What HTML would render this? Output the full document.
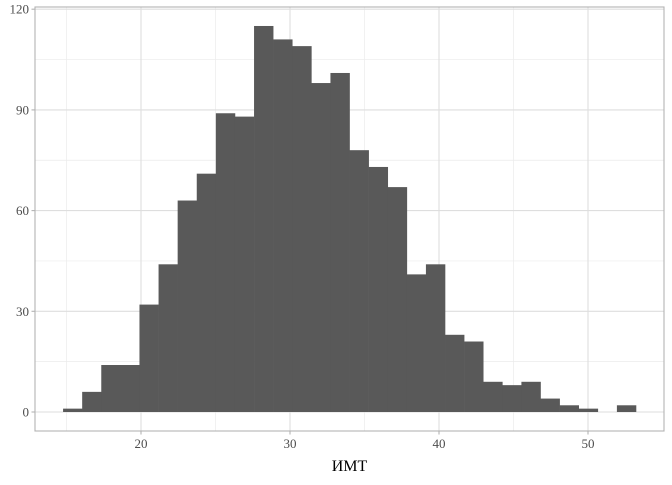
<!DOCTYPE html>
<html><head><meta charset="utf-8"><style>
body{margin:0;background:#fff;width:672px;height:480px;overflow:hidden}
text{font-family:"Liberation Serif",serif}
</style></head><body>
<svg id="c" width="672" height="480" xmlns="http://www.w3.org/2000/svg"></svg>
<script>
const counts=[1,6,14,14,32,44,63,71,89,88,115,111,109,98,101,78,73,67,41,44,23,21,9,8,9,4,2,1,0,2];
const binStart=14.77;
const binWidth=1.2817;
const xTicks=[20,30,40,50];
const xMinor=[15,25,35,45];
const yTicks=[0,30,60,90,120];
const yMinor=[15,45,75,105];
const svg=document.getElementById('c');
const NS='http://www.w3.org/2000/svg';
const L=35,R=664,T=7,B=431;
const X=v=>141+(v-20)*14.9;
const Y=v=>412-v*(100.7/30);
function mk(tag,attrs,parent){const e=document.createElementNS(NS,tag);for(const k in attrs)e.setAttribute(k,attrs[k]);(parent||svg).appendChild(e);return e;}
const grid=mk('g',{});


xMinor.forEach(v=>{const l=mk('line',{x1:X(v),x2:X(v),y1:T,y2:B,stroke:'#ebebeb','stroke-width':0.7},grid);});
yMinor.forEach(v=>{const l=mk('line',{x1:L,x2:R,y1:Y(v),y2:Y(v),stroke:'#ebebeb','stroke-width':0.7},grid);});
xTicks.forEach(v=>{const l=mk('line',{x1:X(v),x2:X(v),y1:T,y2:B,stroke:'#dedede','stroke-width':1.1},grid);});
yTicks.forEach(v=>{const l=mk('line',{x1:L,x2:R,y1:Y(v),y2:Y(v),stroke:'#dedede','stroke-width':1.1},grid);});
const bars=mk('g',{});


counts.forEach((c,i)=>{if(c<=0)return;const x0=X(binStart+i*binWidth),x1=X(binStart+(i+1)*binWidth);
const r=mk('rect',{x:x0,y:Y(c),width:x1-x0+0.3,height:Y(0)-Y(c),fill:'#595959'},bars);

});
const border=mk('rect',{x:L,y:T,width:R-L,height:B-T,fill:'none',stroke:'#b3b3b3','stroke-width':1.1});


xTicks.forEach(v=>{mk('line',{x1:X(v),x2:X(v),y1:B,y2:B+3.5,stroke:'#b3b3b3','stroke-width':1.1});
const t=mk('text',{x:X(v),y:B+17,'text-anchor':'middle','font-size':13,fill:'#4d4d4d'});t.textContent=v;
});
yTicks.forEach(v=>{mk('line',{x1:L-3.5,x2:L,y1:Y(v),y2:Y(v),stroke:'#b3b3b3','stroke-width':1.1});
const t=mk('text',{x:L-6,y:Y(v)+4.5,'text-anchor':'end','font-size':13,fill:'#4d4d4d'});t.textContent=v;
});
const xt=mk('text',{x:(L+R)/2,y:471,'text-anchor':'middle','font-size':16,fill:'#000'});xt.textContent='ИМТ';


</script>
</body></html>
